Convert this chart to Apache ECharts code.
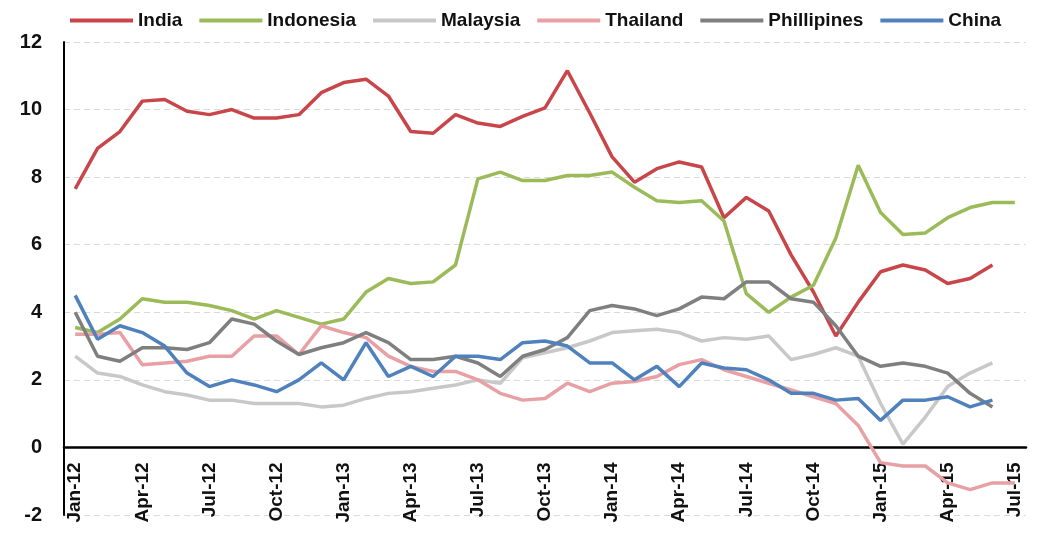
<!DOCTYPE html>
<html lang="en" style="height: 100%;">
<head>
    <meta charset="UTF-8">
    <title>Inflation</title>
    <script src="https://cdn.jsdelivr.net/npm/echarts@6/dist/echarts.min.js"></script>
</head>
<body style="height: 100%; margin: 0; background: #fff;">
<div id="main" style="width:1037px; height:534px;"></div>
<script>
    // months Jan-12 .. Jul-15
    var months = [
        'Jan-12','Feb-12','Mar-12','Apr-12','May-12','Jun-12','Jul-12','Aug-12','Sep-12','Oct-12','Nov-12','Dec-12',
        'Jan-13','Feb-13','Mar-13','Apr-13','May-13','Jun-13','Jul-13','Aug-13','Sep-13','Oct-13','Nov-13','Dec-13',
        'Jan-14','Feb-14','Mar-14','Apr-14','May-14','Jun-14','Jul-14','Aug-14','Sep-14','Oct-14','Nov-14','Dec-14',
        'Jan-15','Feb-15','Mar-15','Apr-15','May-15','Jun-15','Jul-15'
    ];

    var india = [
        7.65, 8.85, 9.35, 10.25, 10.3, 9.95, 9.85, 10.0, 9.75, 9.75, 9.85, 10.5,
        10.8, 10.9, 10.4, 9.35, 9.3, 9.85, 9.6, 9.5, 9.8, 10.05, 11.15, 9.9,
        8.6, 7.85, 8.25, 8.45, 8.3, 6.8, 7.4, 7.0, 5.7, 4.6, 3.3, 4.3,
        5.2, 5.4, 5.25, 4.85, 5.0, 5.4, null
    ];
    var indonesia = [
        3.55, 3.4, 3.8, 4.4, 4.3, 4.3, 4.2, 4.05, 3.8, 4.05, 3.85, 3.65,
        3.8, 4.6, 5.0, 4.85, 4.9, 5.4, 7.95, 8.15, 7.9, 7.9, 8.05, 8.05,
        8.15, 7.7, 7.3, 7.25, 7.3, 6.7, 4.55, 4.0, 4.45, 4.8, 6.2, 8.35,
        6.95, 6.3, 6.35, 6.8, 7.1, 7.25, 7.25
    ];
    var malaysia = [
        2.7, 2.2, 2.1, 1.85, 1.65, 1.55, 1.4, 1.4, 1.3, 1.3, 1.3, 1.2,
        1.25, 1.45, 1.6, 1.65, 1.75, 1.85, 2.0, 1.9, 2.65, 2.8, 2.95, 3.15,
        3.4, 3.45, 3.5, 3.4, 3.15, 3.25, 3.2, 3.3, 2.6, 2.75, 2.95, 2.7,
        1.3, 0.1, 0.9, 1.8, 2.2, 2.5, null
    ];
    var thailand = [
        3.35, 3.35, 3.4, 2.45, 2.5, 2.55, 2.7, 2.7, 3.3, 3.3, 2.75, 3.6,
        3.4, 3.25, 2.7, 2.4, 2.25, 2.25, 2.0, 1.6, 1.4, 1.45, 1.9, 1.65,
        1.9, 1.95, 2.1, 2.45, 2.6, 2.3, 2.1, 1.9, 1.7, 1.5, 1.3, 0.65,
        -0.45, -0.55, -0.55, -1.05, -1.25, -1.05, -1.05
    ];
    var philippines = [
        4.0, 2.7, 2.55, 2.95, 2.95, 2.9, 3.1, 3.8, 3.65, 3.15, 2.75, 2.95,
        3.1, 3.4, 3.1, 2.6, 2.6, 2.7, 2.5, 2.1, 2.7, 2.9, 3.25, 4.05,
        4.2, 4.1, 3.9, 4.1, 4.45, 4.4, 4.9, 4.9, 4.4, 4.3, 3.6, 2.7,
        2.4, 2.5, 2.4, 2.2, 1.6, 1.2, null
    ];
    var china = [
        4.5, 3.2, 3.6, 3.4, 3.0, 2.2, 1.8, 2.0, 1.85, 1.65, 2.0, 2.5,
        2.0, 3.1, 2.1, 2.4, 2.1, 2.7, 2.7, 2.6, 3.1, 3.15, 3.0, 2.5,
        2.5, 2.0, 2.4, 1.8, 2.5, 2.35, 2.3, 2.0, 1.6, 1.6, 1.4, 1.45,
        0.8, 1.4, 1.4, 1.5, 1.2, 1.4, null
    ];

    var names = ['India', 'Indonesia', 'Malaysia', 'Thailand', 'Phillipines', 'China'];
    var colors = ['#C8464A', '#9BBB59', '#C8C8C8', '#E8A0A4', '#7F7F7F', '#4F81BD'];
    var values = [india, indonesia, malaysia, thailand, philippines, china];

    var series = names.map(function (n, i) {
        return {
            name: n,
            type: 'line',
            data: values[i],
            showSymbol: false,
            symbol: 'none',
            connectNulls: false,
            lineStyle: { color: colors[i], width: 3.5 },
            itemStyle: { color: colors[i] }
        };
    });

    var chart = echarts.init(document.getElementById('main'));
    var option = {
        backgroundColor: '#fff',
        animation: false,
        color: colors,
        legend: {
            left: 65,
            top: 6,
            icon: 'rect',
            itemWidth: 63,
            itemHeight: 4,
            itemGap: 17,
            textStyle: {
                fontFamily: 'Liberation Sans',
                fontWeight: 'bold',
                fontSize: 19,
                color: '#111'
            },
            data: names
        },
        grid: { left: 64, right: 11, top: 42, bottom: 19, containLabel: false, outerBoundsMode: 'none' },
        xAxis: {
            type: 'category',
            data: months,
            boundaryGap: true,
            offset: -67.6,   // axis sits on the zero line, labels hang below it
            axisLine: { onZero: false, lineStyle: { color: '#000', width: 2.5 } },
            axisTick: { show: false },
            axisLabel: {
                interval: 2,
                rotate: 90,
                margin: 15,
                fontFamily: 'Liberation Sans',
                fontWeight: 'bold',
                fontSize: 19,
                color: '#111'
            },
            splitLine: { show: false }
        },
        yAxis: {
            type: 'value',
            min: -2,
            max: 12,
            interval: 2,
            axisLine: { show: true, lineStyle: { color: '#000', width: 2 } },
            axisTick: { show: false },
            axisLabel: {
                margin: 22,
                fontFamily: 'Liberation Sans',
                fontWeight: 'bold',
                fontSize: 20,
                color: '#111'
            },
            splitLine: { show: true, lineStyle: { color: '#D9D9D9', type: [6, 4], width: 1 } }
        },
        series: series
    };
    chart.setOption(option);
</script>
</body>
</html>
